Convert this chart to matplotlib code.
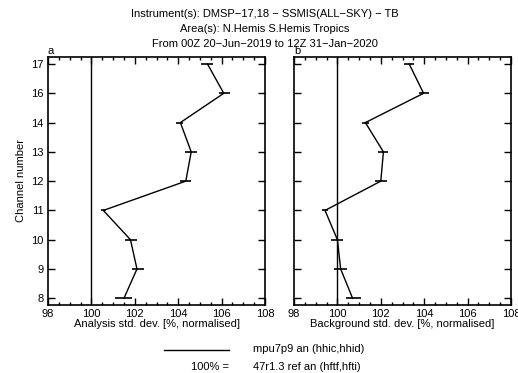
import matplotlib
matplotlib.use("Agg")
import matplotlib.pyplot as plt
from matplotlib.ticker import MultipleLocator, FixedLocator
from matplotlib.lines import Line2D

plt.rcParams['font.family'] = ['Liberation Sans', 'DejaVu Sans']

channels = ['8', '9', '10', '11', '12', '13', '14', '16', '17']
an_values = [101.5, 102.1, 101.8, 100.55, 104.35, 104.6, 104.1, 106.1, 105.35]
an_errors = [0.40, 0.28, 0.27, 0.12, 0.26, 0.28, 0.17, 0.24, 0.27]
an_centers = [101.48, 102.13, 101.81, 100.55, 104.34, 104.58, 104.07, 106.14, 105.34]
bg_values = [100.7, 100.15, 100.0, 99.43, 102.0, 102.12, 101.29, 103.97, 103.31]
bg_errors = [0.34, 0.30, 0.27, 0.13, 0.27, 0.25, 0.15, 0.22, 0.23]
bg_centers = [100.74, 100.15, 99.98, 99.43, 102.01, 102.10, 101.29, 103.98, 103.31]
xticks = [98, 100, 102, 104, 106, 108]

W, H = 518, 373
fig = plt.figure(figsize=(W / 100, H / 100), dpi=100)

ypos = list(range(len(channels)))

def panel(left, values, centers, errors, xlabel, letter, show_y):
    ax = fig.add_axes([left / W, 1 - 305 / H, 217 / W, 248 / H])
    ax.plot(values, ypos, color='black', lw=1.0)
    ax.errorbar(centers, ypos, xerr=errors, fmt='none', ecolor='black',
                elinewidth=1.2, capsize=0)
    ax.axvline(100, color='black', lw=1.0)
    ax.set_xlim(98, 108)
    ax.set_ylim(-0.23, 8.24)
    ax.xaxis.set_major_locator(FixedLocator(xticks))
    ax.xaxis.set_minor_locator(MultipleLocator(0.5))
    ax.set_xticklabels([str(t) for t in xticks], fontsize=8)
    ax.set_yticks(ypos)
    if show_y:
        ax.set_yticklabels(channels, fontsize=8)
        ax.set_ylabel('Channel number', fontsize=8, labelpad=4)
    else:
        ax.set_yticklabels([])
    ax.tick_params(which='both', direction='in', top=True, right=True, pad=3)
    ax.tick_params(which='major', length=5, width=1.0)
    ax.tick_params(which='minor', length=2.5, width=1.0)
    ax.set_xlabel(xlabel, fontsize=8, labelpad=0)
    for s in ax.spines.values():
        s.set_linewidth(1.2)
    ax.text(0.0, 1.005, letter, transform=ax.transAxes, fontsize=8,
            ha='left', va='bottom')
    return ax

panel(48, an_values, an_centers, an_errors,
      'Analysis std. dev. [%, normalised]', 'a', True)
panel(294, bg_values, bg_centers, bg_errors,
      'Background std. dev. [%, normalised]', 'b', False)

fig.text(265 / W, 1 - 14 / H, 'Instrument(s): DMSP\u221217,18 \u2212 SSMIS(ALL\u2212SKY) \u2212 TB',
         fontsize=8, ha='center', va='center')
fig.text(265 / W, 1 - 29 / H, 'Area(s): N.Hemis S.Hemis Tropics',
         fontsize=8, ha='center', va='center')
fig.text(265 / W, 1 - 44 / H, 'From 00Z 20\u2212Jun\u22122019 to 12Z 31\u2212Jan\u22122020',
         fontsize=8, ha='center', va='center')

fig.add_artist(Line2D([164 / W, 229 / W], [1 - 350 / H, 1 - 350 / H],
                      color='black', lw=1.0, transform=fig.transFigure))
fig.text(253 / W, 1 - 349 / H, 'mpu7p9 an (hhic,hhid)', fontsize=8,
         ha='left', va='center')
fig.text(229 / W, 1 - 367 / H, '100% =', fontsize=8, ha='right', va='center')
fig.text(253 / W, 1 - 367 / H, '47r1.3 ref an (hftf,hfti)', fontsize=8,
         ha='left', va='center')

fig.savefig('out.png', dpi=100)
